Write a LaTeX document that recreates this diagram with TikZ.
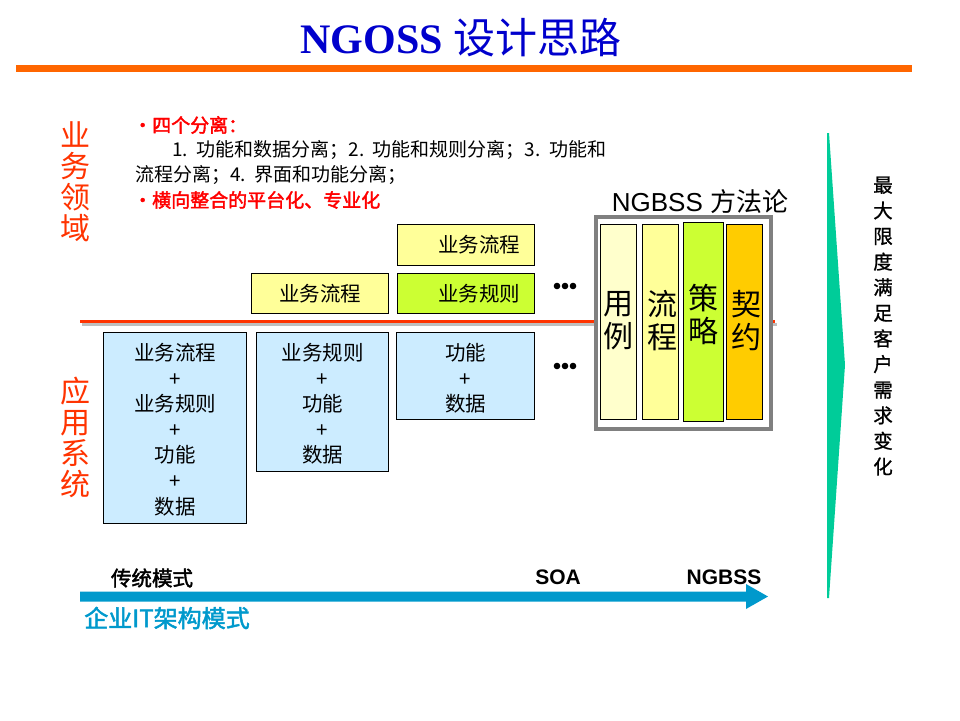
\documentclass[tikz,border=0pt]{standalone}
\usepackage{fontspec}
\setmainfont{Liberation Sans}
\newfontfamily\cjk{Noto Sans CJK SC}
\newfontfamily\cjkb[FakeBold=2]{Noto Sans CJK SC}
\newfontfamily\cjkm[FakeBold=1]{Noto Sans CJK SC}
\newfontfamily\tms{Liberation Serif}
\definecolor{ttlblue}{RGB}{0,0,204}
\definecolor{barorange}{RGB}{255,102,0}
\definecolor{redtxt}{RGB}{255,51,0}
\definecolor{bullred}{RGB}{255,0,0}
\definecolor{lyellow}{RGB}{255,255,153}
\definecolor{llyellow}{RGB}{255,255,204}
\definecolor{lgreen}{RGB}{204,255,51}
\definecolor{gold}{RGB}{255,204,0}
\definecolor{lblue}{RGB}{204,236,255}
\definecolor{tealg}{RGB}{0,204,153}
\definecolor{arrblue}{RGB}{0,153,204}
\begin{document}
\begin{tikzpicture}[x=1pt,y=-1pt,
  box/.style={draw=black,line width=1pt,inner sep=0pt,anchor=north west},
  boxtxt/.style={font=\cjk\fontsize{20.5}{25.6}\selectfont,align=center,anchor=north,inner sep=0pt},
  uptxt/.style={font=\cjk\fontsize{20.5}{20.5}\selectfont,inner sep=0pt},
  col/.style={draw=black,line width=1pt,inner sep=0pt,anchor=north west},
  coltxt/.style={font=\cjk\fontsize{30}{33}\selectfont,align=center,inner sep=0pt},
  vlab/.style={font=\cjk\fontsize{30}{31}\selectfont,text=redtxt,align=center,inner sep=0pt},
  bul/.style={anchor=west,inner sep=0pt,font=\cjk\fontsize{19}{19}\selectfont}
]
\useasboundingbox (0,0) rectangle (960,720);
% title
\node (title) at (461,38) {\tms\bfseries\fontsize{42}{42}\selectfont\textcolor{ttlblue}{NGOSS {\cjk\mdseries 设计思路}}};
\fill[barorange] (16,65) rectangle (912,72);
% side labels
\node[vlab] (bizdom) at (75,182) {业\\务\\领\\域};
\node[vlab] (appsys) at (75,437) {应\\用\\系\\统};
% red divider with shadow
\draw[gray!50,line width=3pt] (82,324) -- (777,324);
\draw[redtxt,line width=3pt] (80,321) -- (775,321);
% bullet text
\node[bul,font=\cjkb\fontsize{19}{19}\selectfont,text=bullred] (b1) at (133,125) {•四个分离：};
\node[bul] (b2) at (172,150) {1.\hspace{0.45em}功能和数据分离；2.\hspace{0.45em}功能和规则分离；3.\hspace{0.45em}功能和};
\node[bul] (b3) at (135,175) {流程分离；4.\hspace{0.45em}界面和功能分离；};
\node[bul,font=\cjkb\fontsize{19}{19}\selectfont,text=bullred] (b4) at (133,200) {•横向整合的平台化、专业化};
% upper boxes
\node[box,fill=lyellow,minimum width=137pt,minimum height=40pt] (ua) at (251,273) {};
\node[uptxt] (uat) at (ua.center) {业务流程};
\node[box,fill=lyellow,minimum width=137pt,minimum height=41pt] (ub) at (397,224) {};
\node[uptxt] (ubt) at ([xshift=13pt]ub.center) {业务流程};
\node[box,fill=lgreen,minimum width=137pt,minimum height=40pt] (uc) at (397,273) {};
\node[uptxt] (uct) at ([xshift=13pt]uc.center) {业务规则};
% dots
\foreach \y in {286,366} {\foreach \x in {557,565,573} {\fill (\x,\y) circle (3.3pt);}}
% lower boxes
\node[box,fill=lblue,minimum width=143pt,minimum height=191pt] (la) at (103,332) {};
\node[boxtxt] (lat) at ([yshift=-11pt]la.north) {业务流程\\+\\业务规则\\+\\功能\\+\\数据};
\node[box,fill=lblue,minimum width=132pt,minimum height=139pt] (lb) at (256,332) {};
\node[boxtxt] (lbt) at ([yshift=-11pt]lb.north) {业务规则\\+\\功能\\+\\数据};
\node[box,fill=lblue,minimum width=138pt,minimum height=87pt] (lc) at (396,332) {};
\node[boxtxt] (lct) at ([yshift=-11pt]lc.north) {功能\\+\\数据};
% NGBSS methodology
\node[font=\fontsize{26}{26}\selectfont,inner sep=0pt] (ngt) at (700,202) {NGBSS {\cjk 方法论}};
\node[draw=gray,line width=4pt,fill=white,minimum width=175pt,minimum height=212pt,inner sep=0pt,anchor=north west] (ngb) at (594,215) {};
\node[col,fill=llyellow,minimum width=36pt,minimum height=195pt] (c1) at (600,224) {};
\node[coltxt] (c1t) at (618,321) {用\\例};
\node[col,fill=lyellow,minimum width=36pt,minimum height=195pt] (c2) at (642,224) {};
\node[coltxt] (c2t) at (662,321) {流\\程};
\node[col,fill=lgreen,minimum width=40pt,minimum height=199pt] (c3) at (683,222) {};
\node[coltxt] (c3t) at (703,314) {策\\略};
\node[col,fill=gold,minimum width=36pt,minimum height=195pt] (c4) at (726,224) {};
\node[coltxt] (c4t) at (746,321) {契\\约};
% right green arrow and text
\fill[tealg] (827,133) -- (829,133) -- (845,365) -- (829,598) -- (827,598) -- cycle;
\node[font=\cjkm\fontsize{19.5}{25.6}\selectfont,align=center,inner sep=0pt] (need) at (883,326) {最\\大\\限\\度\\满\\足\\客\\户\\需\\求\\变\\化};
% bottom arrow
\fill[arrblue] (80,591.5) -- (746,591.5) -- (746,584) -- (768,596.5) -- (746,609) -- (746,601.5) -- (80,601.5) -- cycle;
\node[font=\cjkb\fontsize{20.5}{20.5}\selectfont,inner sep=0pt] (trad) at (152,578) {传统模式};
\node[font=\bfseries\fontsize{21}{21}\selectfont,inner sep=0pt] (soa) at (558,577) {SOA};
\node[font=\bfseries\fontsize{21}{21}\selectfont,inner sep=0pt] (ngbss) at (724,577) {NGBSS};
\node[font=\cjkb\fontsize{24}{24}\selectfont,text=arrblue,inner sep=0pt] (ent) at (167,618) {企业IT架构模式};
\end{tikzpicture}
\end{document}
